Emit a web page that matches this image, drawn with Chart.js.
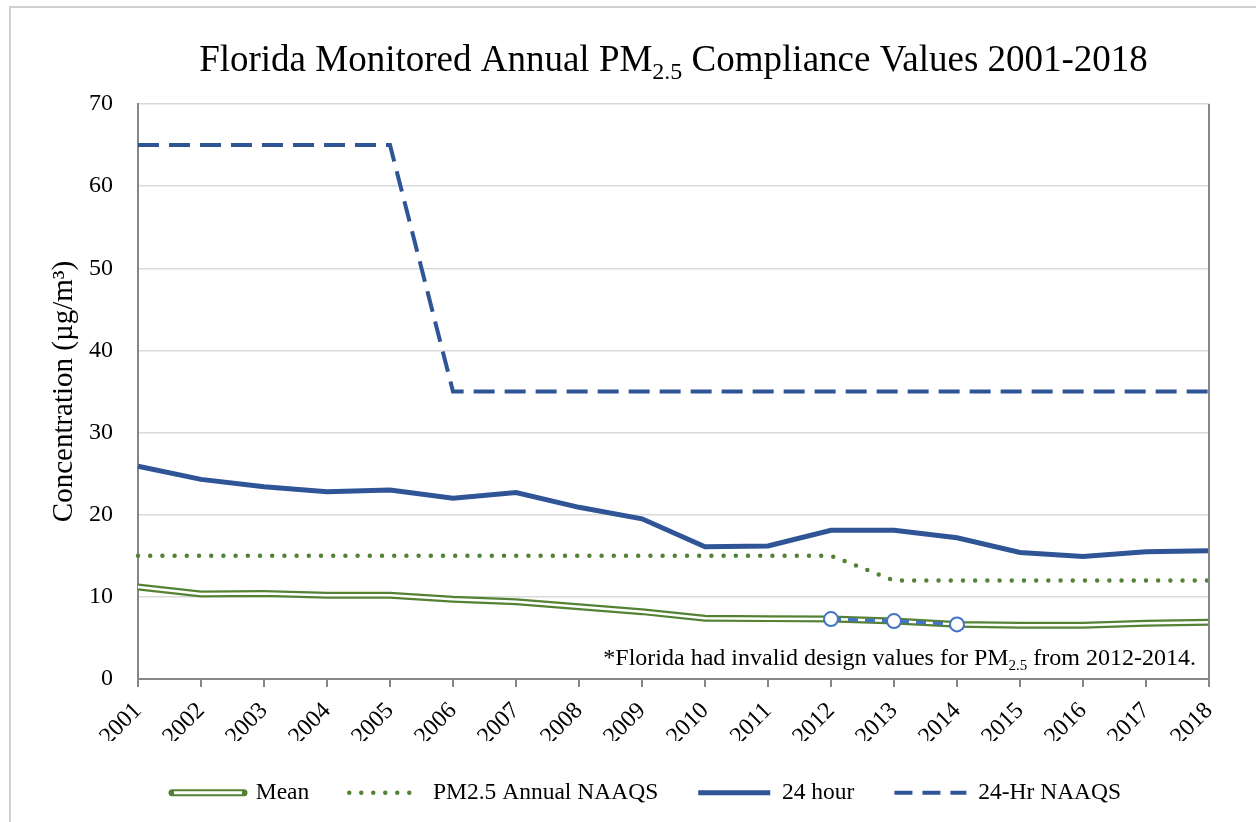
<!DOCTYPE html>
<html lang="en">
<head>
<meta charset="UTF-8" />
<title>Florida Monitored Annual PM2.5 Compliance Values 2001-2018</title>
<script src="https://cdn.jsdelivr.net/npm/chart.js"></script>
<style>
  html, body { margin: 0; padding: 0; background: #fff; }
  #wrap { width: 1256px; height: 822px; }
</style>
</head>
<body>
<div id="wrap"><canvas id="chart" width="1256" height="822"></canvas></div>
<script>
// data
const years = ["2001", "2002", "2003", "2004", "2005", "2006", "2007", "2008", "2009",
  "2010", "2011", "2012", "2013", "2014", "2015", "2016", "2017", "2018"];
const meanValues = [11.2, 10.35, 10.4, 10.2, 10.2, 9.7, 9.4, 8.8, 8.2,
  7.4, 7.35, 7.3, 7.05, 6.65, 6.55, 6.55, 6.8, 6.9];
const annualNaaqs = [15, 15, 15, 15, 15, 15, 15, 15, 15, 15, 15, 15, 12, 12, 12, 12, 12, 12];
const hour24Values = [25.9, 24.3, 23.4, 22.8, 23.0, 22.0, 22.7, 20.9, 19.5,
  16.1, 16.2, 18.1, 18.1, 17.2, 15.4, 14.9, 15.5, 15.6];
const naaqs24 = [65, 65, 65, 65, 65, 35, 35, 35, 35, 35, 35, 35, 35, 35, 35, 35, 35, 35];
// years with invalid design values (2012-2014)
const invalidValues = [null, null, null, null, null, null, null, null, null,
  null, null, 7.3, 7.05, 6.65, null, null, null, null];
const yTicks = [0, 10, 20, 30, 40, 50, 60, 70];

const SERIF = "'Liberation Serif', 'Times New Roman', serif";
const GREEN = "#548235";
const BLUE = "#2F5597";
const LIGHT_BLUE = "#4472C4";
const AXIS = "#868686";
const LEGEND_SIZE = 23.5;

// draws text with a subscript part, parts = [[text, size, dy], ...]
function drawRich(ctx, parts, x, y, align) {
  let total = 0;
  parts.forEach(p => {
    ctx.font = p[1] + "px " + SERIF;
    total += ctx.measureText(p[0]).width;
  });
  let cx = align === "center" ? x - total / 2 : align === "right" ? x - total : x;
  ctx.textAlign = "left";
  ctx.textBaseline = "alphabetic";
  ctx.fillStyle = "#000";
  parts.forEach(p => {
    ctx.font = p[1] + "px " + SERIF;
    ctx.fillText(p[0], cx, y + p[2]);
    cx += ctx.measureText(p[0]).width;
  });
}

const decorations = {
  id: "decorations",
  afterLayout(chart) {
    // move the legend row so it starts where the original one does
    const lg = chart.legend;
    if (!lg || !lg.lineWidths) return;
    const pad = lg.options.labels.padding;
    const start = (lg.left + pad + lg.right - lg.lineWidths[0]) / 2;
    const d = 172 - start;
    lg.left += d;
    lg.right += d;
  },
  beforeDraw(chart) {
    const ctx = chart.ctx;
    ctx.save();
    ctx.strokeStyle = "#D0D0D0";
    ctx.lineWidth = 2;
    ctx.strokeRect(10, 7, chart.width + 20, chart.height + 20);
    ctx.restore();
  },
  afterDraw(chart) {
    const { ctx, chartArea } = chart;
    ctx.save();
    // right border of the plot
    ctx.strokeStyle = AXIS;
    ctx.lineWidth = 2;
    ctx.beginPath();
    ctx.moveTo(chartArea.right, chartArea.top);
    ctx.lineTo(chartArea.right, chartArea.bottom);
    ctx.stroke();

    // title
    drawRich(ctx, [
      ["Florida Monitored Annual PM", 37, 0],
      ["2.5", 24, 8],
      [" Compliance Values 2001-2018", 37, 0]
    ], (chartArea.left + chartArea.right) / 2, 71, "center");

    // note
    drawRich(ctx, [
      ["*Florida had invalid design values for PM", 24, 0],
      ["2.5", 15, 5],
      [" from 2012-2014.", 24, 0]
    ], chartArea.right - 13, 665, "right");

    // inner white stroke of the "Mean" legend sample
    const hb = chart.legend.legendHitBoxes[0];
    if (hb) {
      ctx.strokeStyle = "#fff";
      ctx.lineWidth = 3;
      ctx.beginPath();
      ctx.moveTo(hb.left + 2, hb.top + LEGEND_SIZE / 2);
      ctx.lineTo(hb.left + 70, hb.top + LEGEND_SIZE / 2);
      ctx.stroke();
    }
    ctx.restore();
  }
};

const legendStyles = [
  { lineWidth: 7, lineDash: [], lineCap: "round" },
  { lineWidth: 4.5, lineDash: [0, 12], lineCap: "round" },
  { lineWidth: 5, lineDash: [], lineCap: "butt" },
  { lineWidth: 4, lineDash: [18, 10], lineCap: "butt" }
];

new Chart(document.getElementById("chart"), {
  type: "line",
  data: {
    labels: years,
    datasets: [
      {
        label: "Mean",
        data: meanValues,
        borderColor: GREEN,
        borderWidth: 7,
        pointRadius: 0,
        tension: 0,
        order: 3
      },
      {
        label: "PM2.5 Annual NAAQS",
        data: annualNaaqs,
        borderColor: GREEN,
        borderWidth: 4.5,
        borderDash: [0, 12.2],
        borderCapStyle: "round",
        pointRadius: 0,
        tension: 0,
        order: 4
      },
      {
        label: "24 hour",
        data: hour24Values,
        borderColor: BLUE,
        borderWidth: 5,
        pointRadius: 0,
        tension: 0,
        order: 5
      },
      {
        label: "24-Hr NAAQS",
        data: naaqs24,
        borderColor: BLUE,
        borderWidth: 4,
        borderDash: [21, 10],
        pointRadius: 0,
        tension: 0,
        order: 6
      },
      {
        label: "mean-inner",
        data: meanValues,
        borderColor: "#ffffff",
        borderWidth: 2.5,
        pointRadius: 0,
        tension: 0,
        order: 2
      },
      {
        label: "invalid",
        data: invalidValues,
        borderColor: LIGHT_BLUE,
        borderWidth: 3.5,
        borderDash: [10, 7],
        pointRadius: 7,
        pointBackgroundColor: "#ffffff",
        pointBorderColor: LIGHT_BLUE,
        pointBorderWidth: 2,
        spanGaps: false,
        tension: 0,
        order: 1
      }
    ]
  },
  options: {
    responsive: false,
    animation: false,
    layout: { padding: { left: 10, right: 47, top: 104, bottom: 7.5 } },
    scales: {
      x: {
        grid: { display: true, drawOnChartArea: false, drawTicks: true, tickLength: 8, color: AXIS, lineWidth: 2 },
        border: { color: AXIS, width: 2 },
        ticks: {
          font: { family: SERIF, size: 24 },
          color: "#000",
          maxRotation: 45,
          minRotation: 45,
          autoSkip: false,
          padding: 10
        },
        afterFit(s) { s.height = 62; }
      },
      y: {
        min: 0,
        max: 70,
        afterBuildTicks(s) { s.ticks = yTicks.map(v => ({ value: v })); },
        ticks: { font: { family: SERIF, size: 24 }, color: "#000", padding: 25 },
        grid: { color: "#D9D9D9", lineWidth: 1.5, drawTicks: false },
        border: { color: AXIS, width: 2 },
        title: {
          display: true,
          text: "Concentration (µg/m³)",
          font: { family: SERIF, size: 29 },
          color: "#000",
          padding: { top: 37, bottom: 0 }
        },
        afterFit(s) { s.width = 128; }
      }
    },
    plugins: {
      tooltip: { enabled: false },
      legend: {
        position: "bottom",
        labels: {
          font: { family: SERIF, size: LEGEND_SIZE },
          color: "#000",
          usePointStyle: true,
          pointStyleWidth: 72,
          padding: 40,
          generateLabels(chart) {
            return chart.data.datasets.slice(0, 4).map((ds, i) => ({
              text: ds.label,
              datasetIndex: i,
              pointStyle: "line",
              strokeStyle: ds.borderColor,
              fillStyle: ds.borderColor,
              lineWidth: legendStyles[i].lineWidth,
              lineDash: legendStyles[i].lineDash,
              lineCap: legendStyles[i].lineCap,
              fontColor: "#000",
              hidden: false
            }));
          }
        }
      }
    }
  },
  plugins: [decorations]
});
</script>
</body>
</html>
